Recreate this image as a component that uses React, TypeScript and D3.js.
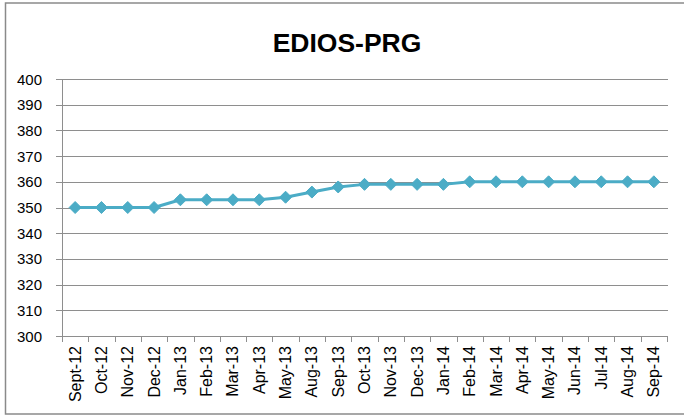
import React from "react";
import * as d3 from "d3";

const categories = ["Sept-12","Oct-12","Nov-12","Dec-12","Jan-13","Feb-13","Mar-13","Apr-13","May-13","Aug-13","Sep-13","Oct-13","Nov-13","Dec-13","Jan-14","Feb-14","Mar-14","Apr-14","May-14","Jun-14","Jul-14","Aug-14","Sep-14"];
const values = [350,350,350,350,353,353,353,353,354,356,358,359,359,359,359,360,360,360,360,360,360,360,360];
const yTicks = [300,310,320,330,340,350,360,370,380,390,400];
const title = "EDIOS-PRG";

export default function App() {
  const W = 684, H = 416;
  const left = 62, right = 667, top = 79, bottom = 336;
  const x = d3.scaleBand<string>().domain(categories).range([left, right]);
  const y = d3.scaleLinear().domain([300, 400]).range([bottom, top]);
  const cx = (c: string) => (x(c) as number) + x.bandwidth() / 2;
  const line = d3.line<number>().x((_, i) => cx(categories[i])).y(d => y(d));
  const grid = "#8e8e8e";
  const font = "'Liberation Sans', Arial, sans-serif";
  const r = 6;
  return (
    <svg width={W} height={H} style={{ position: "absolute", left: 0, top: 0 }}>
      <rect x={0} y={0} width={W} height={H} fill="#fff" />
      <rect x={5.5} y={3} width={W + 10} height={411} fill="none" stroke="#8a8a8a" strokeWidth={1.5} />
      <text x={347} y={52} textAnchor="middle" fontFamily={font} fontWeight="bold" fontSize={26.5} fill="#000">{title}</text>
      {yTicks.map(t => (
        <g key={t}>
          <line x1={left} x2={right + 1} y1={Math.round(y(t)) + 0.5} y2={Math.round(y(t)) + 0.5} stroke={grid} strokeWidth={1} />
          <line x1={left - 6} x2={left} y1={Math.round(y(t)) + 0.5} y2={Math.round(y(t)) + 0.5} stroke={grid} strokeWidth={1} />
          <text x={42} y={y(t) + 5.5} textAnchor="end" fontFamily={font} fontSize={15} fill="#000">{t}</text>
        </g>
      ))}
      <line x1={left + 0.5} x2={left + 0.5} y1={top} y2={bottom + 6} stroke={grid} strokeWidth={1} />
      {categories.map((c) => (
        <line key={"t" + c} x1={Math.round((x(c) as number) + x.bandwidth()) + 0.5} x2={Math.round((x(c) as number) + x.bandwidth()) + 0.5} y1={bottom} y2={bottom + 6} stroke={grid} strokeWidth={1} />
      ))}
      {categories.map(c => (
        <text key={c} transform={`translate(${cx(c) + 5.5},${346}) rotate(-90)`} textAnchor="end" fontFamily={font} fontSize={16} fill="#000">{c}</text>
      ))}
      <path d={line(values) || ""} fill="none" stroke="#4BACC6" strokeWidth={3} strokeLinejoin="round" />
      {values.map((v, i) => {
        const px = cx(categories[i]), py = y(v);
        return <path key={i} d={`M${px},${py - r}L${px + r},${py}L${px},${py + r}L${px - r},${py}Z`} fill="#4BACC6" stroke="#4BACC6" strokeWidth={1} />;
      })}
    </svg>
  );
}
